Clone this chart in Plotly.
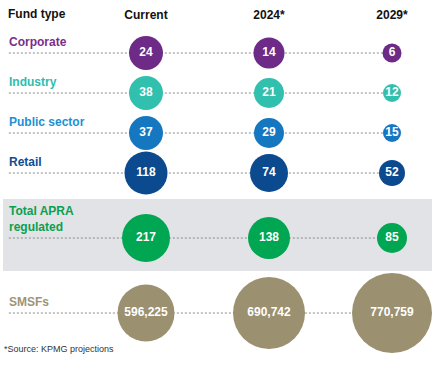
import plotly.graph_objects as go

# ---- data ----
periods = ["Current", "2024*", "2029*"]
fund_types = ["Corporate", "Industry", "Public sector", "Retail"]
corporate = [24, 14, 6]
industry = [38, 21, 12]
public_sector = [37, 29, 15]
retail = [118, 74, 52]
total_apra = [217, 138, 85]
smsfs = [596225, 690742, 770759]
total_label = "Total APRA regulated"
smsf_label = "SMSFs"
header_label = "Fund type"
footnote = "*Source: KPMG projections"

# ---- style ----
W, H = 441, 370
MT = 28
FONT = "Liberation Sans, Arial, sans-serif"
label_colors = ["#7a2d8c", "#2dbdb0", "#1c8fd6", "#0e4c92", "#0aa04e", "#9e9475"]
circle_colors = ["#6d2a87", "#31bfae", "#1677c1", "#0b4a8e", "#00a651", "#9b906f"]
marker_sizes = [[34, 31, 19], [34, 30, 18], [34, 30, 18], [43, 38, 26], [48, 42, 30], [57, 72, 80]]

fig = go.Figure()

rows = [
    (fund_types[0], corporate, "y"),
    (fund_types[1], industry, "y"),
    (fund_types[2], public_sector, "y"),
    (fund_types[3], retail, "y"),
    (total_label, total_apra, "y2"),
    (smsf_label, smsfs, "y3"),
]

# background band for total row
fig.add_shape(type="rect", xref="paper", yref="y2", x0=3 / W, x1=432 / W, y0=-0.39, y1=0.33,
              fillcolor="#e1e3e6", line_width=0, layer="below")

row_index = {"y": 0, "y2": 0, "y3": 0}
for i, (name, vals, yax) in enumerate(rows):
    idx = row_index[yax]
    row_index[yax] += 1
    # dashed leader line
    fig.add_shape(type="line", xref="x", yref=yax, x0=-1.115, x1=2, y0=idx, y1=idx,
                  line=dict(color="#8a8a8a", width=1, dash="2px,2px"), layer="below")
    fig.add_trace(go.Scatter(
        x=periods, y=[name] * len(vals), yaxis=yax, mode="markers+text",
        marker=dict(size=marker_sizes[i], color=circle_colors[i], line_width=0, opacity=1),
        text=[f"<b>{v:,}</b>" for v in vals], textposition="middle center",
        textfont=dict(color="white", size=12, family=FONT),
        hoverinfo="skip", showlegend=False, cliponaxis=False,
    ))
    lbl = "Total APRA<br>regulated" if name == total_label else name
    fig.add_annotation(xref="paper", yref=yax, x=7 / W, y=idx, text=f"<b>{lbl}</b>",
                       showarrow=False, xanchor="left", yanchor="bottom", yshift=2, align="left",
                       font=dict(color=label_colors[i], size=12, family=FONT))

fig.add_annotation(xref="paper", yref="paper", x=6 / W, y=1 + (MT - 14) / (H - MT),
                   text=f"<b>{header_label}</b>", showarrow=False, xanchor="left", yanchor="middle",
                   font=dict(color="#111", size=12, family=FONT))
fig.add_annotation(xref="paper", yref="paper", x=2 / W, y=1 - (349 - MT) / (H - MT),
                   text=footnote, showarrow=False, xanchor="left", yanchor="middle",
                   font=dict(color="#333", size=9, family=FONT))

ph = H - MT
fig.update_layout(
    width=W, height=H, margin=dict(l=0, r=0, t=MT, b=0, autoexpand=False),
    paper_bgcolor="white", plot_bgcolor="rgba(0,0,0,0)",
    font=dict(family=FONT),
    xaxis=dict(type="category", categoryorder="array", categoryarray=periods,
               range=[-146 / 123, -146 / 123 + W / 123], side="top", automargin=False,
               showgrid=False, zeroline=False, showline=False, ticks="", ticklabelstandoff=6,
               tickvals=periods, ticktext=[f"<b>{p}</b>" for p in periods],
               tickfont=dict(size=12, color="#111", family=FONT), fixedrange=True),
    yaxis=dict(type="category", categoryorder="array", categoryarray=fund_types,
               range=[(ph - 25) / 40, -25 / 40], visible=False, fixedrange=True),
    yaxis2=dict(type="category", overlaying="y", categoryarray=[total_label],
                range=[(ph - 210) / 100, -210 / 100], visible=False, fixedrange=True),
    yaxis3=dict(type="category", overlaying="y", categoryarray=[smsf_label],
                range=[(ph - 285) / 100, -285 / 100], visible=False, fixedrange=True),
)

fig.write_html("out.html", config={"displayModeBar": False},
               post_script="document.body.style.margin='0';")
